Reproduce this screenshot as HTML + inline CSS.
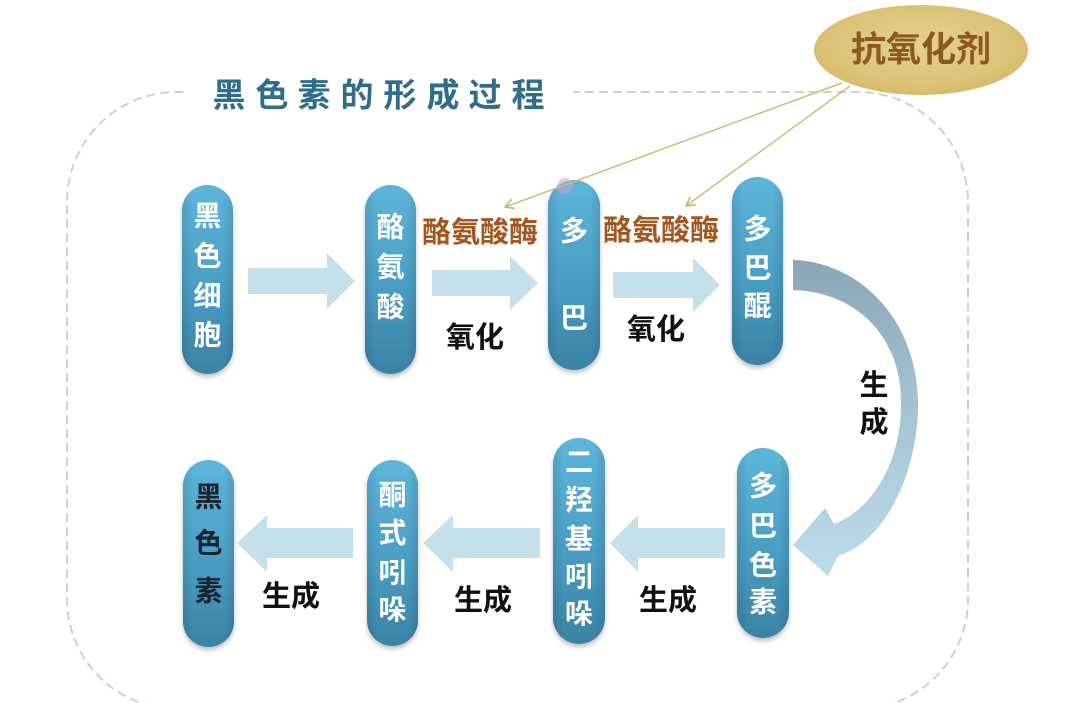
<!DOCTYPE html>
<html>
<head>
<meta charset="utf-8">
<style>
  html,body{margin:0;padding:0;background:#ffffff;}
  body{width:1080px;height:703px;overflow:hidden;}
  svg{display:block;}
  text{font-family:"Liberation Sans","Noto Sans CJK SC","WenQuanYi Zen Hei",sans-serif;}
</style>
</head>
<body>
<svg width="1080" height="703" viewBox="0 0 1080 703" xmlns="http://www.w3.org/2000/svg">
  <defs>
    <linearGradient id="pill" x1="0" y1="0" x2="0" y2="1">
      <stop offset="0" stop-color="#5db5da"/>
      <stop offset="0.55" stop-color="#4a9dc3"/>
      <stop offset="1" stop-color="#3a82a4"/>
    </linearGradient>
    <linearGradient id="pillEdge" x1="0" y1="0" x2="1" y2="0">
      <stop offset="0" stop-color="#000" stop-opacity="0.10"/>
      <stop offset="0.2" stop-color="#000" stop-opacity="0"/>
      <stop offset="0.8" stop-color="#000" stop-opacity="0"/>
      <stop offset="1" stop-color="#000" stop-opacity="0.10"/>
    </linearGradient>
    <linearGradient id="curve" x1="0" y1="260" x2="0" y2="575" gradientUnits="userSpaceOnUse">
      <stop offset="0" stop-color="#8aa6b7"/>
      <stop offset="0.4" stop-color="#a2bfce"/>
      <stop offset="1" stop-color="#bddcea"/>
    </linearGradient>
    <radialGradient id="ell" cx="0.5" cy="0.45" r="0.6">
      <stop offset="0" stop-color="#e6d08f"/>
      <stop offset="0.7" stop-color="#dcc378"/>
      <stop offset="1" stop-color="#d4b865"/>
    </radialGradient>
    <filter id="sh" x="-30%" y="-10%" width="160%" height="125%">
      <feDropShadow dx="0" dy="3" stdDeviation="2.5" flood-color="#000" flood-opacity="0.25"/>
    </filter>
    <marker id="ah" markerWidth="12" markerHeight="12" refX="9" refY="5" orient="auto" markerUnits="userSpaceOnUse">
      <path d="M0,0 L9,5 L0,10" fill="none" stroke="#c9b06c" stroke-width="1.5"/>
    </marker>
  </defs>

  <!-- dashed rounded border -->
  <path d="M183,92 L177,92 A110 110 0 0 0 67 202 L67 599 A110 110 0 0 0 177 709 L858 709 A110 110 0 0 0 968 599 L968 202 A110 110 0 0 0 858 92 L573 92"
        fill="none" stroke="#c4d4de" stroke-width="2" stroke-dasharray="9 5"/>

  <!-- title -->
  <g font-size="33" font-weight="bold" fill="#2f6d89" text-anchor="middle" dominant-baseline="central">
    <text x="229" y="95">黑</text>
    <text x="272" y="95">色</text>
    <text x="314" y="95">素</text>
    <text x="357" y="95">的</text>
    <text x="400" y="95">形</text>
    <text x="443" y="95">成</text>
    <text x="485" y="95">过</text>
    <text x="528" y="95">程</text>
  </g>

  <!-- straight arrows top -->
  <g fill="#c6e0eb">
    <polygon points="248,268 327,268 327,253 355,281 327,309 327,294 248,294"/>
    <polygon points="432,270 510,270 510,256 538,283 510,310 510,296 432,296"/>
    <polygon points="613,272 693,272 693,258 720,285 693,312 693,298 613,298"/>
    <!-- bottom arrows -->
    <polygon points="353,528 267,528 267,515 237,543 267,572 267,558 353,558"/>
    <polygon points="540,528 453,528 453,515 423,543 453,572 453,558 540,558"/>
    <polygon points="725,528 638,528 638,515 610,543 638,572 638,558 725,558"/>
  </g>

  <!-- curved arrow -->
  <path d="M793,260 C860,262 918,320 918,405 C918,468 888,540 838,556 L828,576 L793,545 L825,508 L834,524 C872,510 901,462 901,405 C902,335 855,292 793,290 Z"
        fill="url(#curve)"/>

  <!-- pills -->
  <g filter="url(#sh)">
    <rect x="182" y="185" width="51" height="189" rx="25.5" fill="url(#pill)"/>
    <rect x="365" y="185" width="51" height="189" rx="25.5" fill="url(#pill)"/>
    <rect x="548" y="180" width="52" height="190" rx="26" fill="url(#pill)"/>
    <rect x="732" y="177" width="51" height="188" rx="25.5" fill="url(#pill)"/>
    <rect x="737" y="448" width="52" height="190" rx="26" fill="url(#pill)"/>
    <rect x="183" y="460" width="51" height="187" rx="25.5" fill="url(#pill)"/>
    <rect x="367" y="460" width="51" height="186" rx="25.5" fill="url(#pill)"/>
    <rect x="553" y="438" width="52" height="206" rx="26" fill="url(#pill)"/>
  </g>
  <g>
    <rect x="182" y="185" width="51" height="189" rx="25.5" fill="url(#pillEdge)"/>
    <rect x="365" y="185" width="51" height="189" rx="25.5" fill="url(#pillEdge)"/>
    <rect x="548" y="180" width="52" height="190" rx="26" fill="url(#pillEdge)"/>
    <rect x="732" y="177" width="51" height="188" rx="25.5" fill="url(#pillEdge)"/>
    <rect x="737" y="448" width="52" height="190" rx="26" fill="url(#pillEdge)"/>
    <rect x="183" y="460" width="51" height="187" rx="25.5" fill="url(#pillEdge)"/>
    <rect x="367" y="460" width="51" height="186" rx="25.5" fill="url(#pillEdge)"/>
    <rect x="553" y="438" width="52" height="206" rx="26" fill="url(#pillEdge)"/>
  </g>

  <!-- purple highlight on 多巴 top -->
  <circle cx="565" cy="186" r="8" fill="#c9a3dc" opacity="0.55"/>

  <!-- pill texts -->
  <g font-size="28" font-weight="bold" fill="#ffffff" text-anchor="middle" dominant-baseline="central">
    <text x="207.5" y="216">黑</text>
    <text x="207.5" y="256">色</text>
    <text x="207.5" y="296">细</text>
    <text x="207.5" y="335">胞</text>

    <text x="390.5" y="227">酪</text>
    <text x="390.5" y="267">氨</text>
    <text x="390.5" y="307">酸</text>

    <text x="574" y="231">多</text>
    <text x="574" y="318">巴</text>

    <text x="757.5" y="229">多</text>
    <text x="757.5" y="268">巴</text>
    <text x="757.5" y="306">醌</text>

    <text x="763" y="486">多</text>
    <text x="763" y="526">巴</text>
    <text x="763" y="565">色</text>
    <text x="763" y="602">素</text>

    <text x="392.5" y="495">酮</text>
    <text x="392.5" y="533">式</text>
    <text x="392.5" y="573">吲</text>
    <text x="392.5" y="610">哚</text>

    <text x="579" y="462">二</text>
    <text x="579" y="500">羟</text>
    <text x="579" y="539">基</text>
    <text x="579" y="577">吲</text>
    <text x="579" y="614">哚</text>
  </g>
  <g font-size="28" font-weight="bold" fill="#1b2230" text-anchor="middle" dominant-baseline="central">
    <text x="208.5" y="497">黑</text>
    <text x="208.5" y="543">色</text>
    <text x="208.5" y="591">素</text>
  </g>

  <!-- enzyme labels -->
  <g font-size="29" font-weight="bold" fill="#a4561f" text-anchor="middle" dominant-baseline="central">
    <text x="480" y="233">酪氨酸酶</text>
    <text x="661" y="231">酪氨酸酶</text>
  </g>

  <!-- black labels -->
  <g font-size="29" font-weight="bold" fill="#111111" text-anchor="middle" dominant-baseline="central">
    <text x="475" y="338">氧化</text>
    <text x="656" y="330">氧化</text>
    <text x="291" y="597">生成</text>
    <text x="483" y="601">生成</text>
    <text x="668" y="601">生成</text>
    <text x="874" y="386">生</text>
    <text x="874" y="423">成</text>
  </g>

  <!-- antioxidant lines -->
  <line x1="842" y1="83" x2="505" y2="207" stroke="#d4ba72" stroke-width="1.5" marker-end="url(#ah)"/>
  <line x1="850" y1="86" x2="686" y2="206" stroke="#d4ba72" stroke-width="1.5" marker-end="url(#ah)"/>

  <!-- antioxidant ellipse -->
  <ellipse cx="921" cy="50" rx="107" ry="45" fill="url(#ell)"/>
  <text x="921" y="50" font-size="35" font-weight="bold" fill="#8a5a1e" text-anchor="middle" dominant-baseline="central">抗氧化剂</text>
</svg>
</body>
</html>
